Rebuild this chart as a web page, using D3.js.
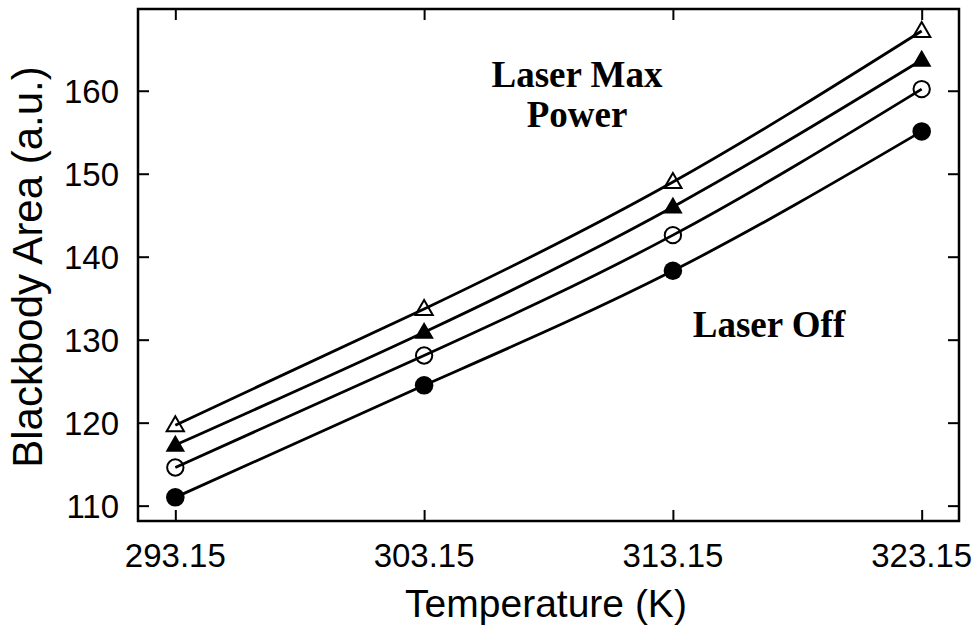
<!DOCTYPE html>
<html>
<head>
<meta charset="utf-8">
<script src="https://cdn.jsdelivr.net/npm/d3@7"></script>
<style>
  body { margin: 0; background: #fff; }
  .tick-label { font-family: 'Liberation Sans', Arial, sans-serif; font-size: 33px; fill: #000; }
  .axis-title { font-family: 'Liberation Sans', Arial, sans-serif; fill: #000; }
  .note { font-family: 'Liberation Serif', 'Times New Roman', serif; font-weight: bold; font-size: 37px; fill: #000; }
</style>
</head>
<body>
<div id="chart"></div>
<script>
// data
var temperatures = [293.15, 303.15, 313.15, 323.15];
var laserOff = [111.0, 124.5, 138.3, 155.1];
var laserLow = [114.6, 128.1, 142.6, 160.2];
var laserMid = [117.3, 130.9, 146.0, 163.7];
var laserMax = [119.7, 133.7, 149.0, 167.2];
var xTicks = [293.15, 303.15, 313.15, 323.15];
var yTicks = [110, 120, 130, 140, 150, 160];

var series = [
  { name: 'off', values: laserOff, symbol: 'circle', filled: true },
  { name: 'low', values: laserLow, symbol: 'circle', filled: false },
  { name: 'mid', values: laserMid, symbol: 'triangle', filled: true },
  { name: 'max', values: laserMax, symbol: 'triangle', filled: false }
];

var width = 978;
var height = 625;
var margin = { top: 9, right: 19, bottom: 104, left: 138 };
var graphWidth = width - margin.left - margin.right;
var graphHeight = height - margin.top - margin.bottom;

var svg = d3.select('#chart')
  .append('svg')
  .attr('width', width)
  .attr('height', height);

var graph = svg.append('g')
  .attr('transform', 'translate(' + margin.left + ',' + margin.top + ')');

var x = d3.scaleLinear().domain([291.65, 324.65]).range([0, graphWidth]);
var y = d3.scaleLinear().domain([108.15, 169.85]).range([graphHeight, 0]);

// mirrored inward ticks on all four sides
var tickLen = 11;
graph.append('g').call(d3.axisBottom(x).tickValues(xTicks).tickSize(-tickLen).tickSizeOuter(0).tickFormat(''))
  .attr('transform', 'translate(0,' + graphHeight + ')');
graph.append('g').call(d3.axisTop(x).tickValues(xTicks).tickSize(-tickLen).tickSizeOuter(0).tickFormat(''));
graph.append('g').call(d3.axisLeft(y).tickValues(yTicks).tickSize(-tickLen).tickSizeOuter(0).tickFormat(''));
graph.append('g').call(d3.axisRight(y).tickValues(yTicks).tickSize(-tickLen).tickSizeOuter(0).tickFormat(''))
  .attr('transform', 'translate(' + graphWidth + ',0)');
graph.selectAll('.domain').remove();
graph.selectAll('.tick line').attr('stroke', '#000').attr('stroke-width', 2);

// frame
graph.append('rect')
  .attr('width', graphWidth)
  .attr('height', graphHeight)
  .attr('fill', 'none')
  .attr('stroke', '#000')
  .attr('stroke-width', 2.5);

// tick labels
graph.selectAll('.x-label')
  .data(xTicks)
  .enter()
  .append('text')
  .attr('class', 'tick-label')
  .attr('x', d => x(d))
  .attr('y', graphHeight + 46)
  .attr('text-anchor', 'middle')
  .text(d => d.toFixed(2));

graph.selectAll('.y-label')
  .data(yTicks)
  .enter()
  .append('text')
  .attr('class', 'tick-label')
  .attr('x', -19)
  .attr('y', d => y(d))
  .attr('dy', '0.36em')
  .attr('text-anchor', 'end')
  .text(d => d);

// axis titles
svg.append('text')
  .attr('class', 'axis-title')
  .attr('x', 546)
  .attr('y', 617)
  .attr('text-anchor', 'middle')
  .style('font-size', '39px')
  .text('Temperature (K)');

svg.append('text')
  .attr('class', 'axis-title')
  .attr('transform', 'translate(42,267) rotate(-90)')
  .attr('text-anchor', 'middle')
  .style('font-size', '42px')
  .text('Blackbody Area (a.u.)');

// fitted curves
var line = d3.line()
  .x((d, i) => x(temperatures[i]))
  .y(d => y(d))
  .curve(d3.curveNatural);

graph.selectAll('.curve')
  .data(series)
  .enter()
  .append('path')
  .attr('d', d => line(d.values))
  .attr('fill', 'none')
  .attr('stroke', '#000')
  .attr('stroke-width', 2.8);

// markers
var circleSym = d3.symbol().type(d3.symbolCircle);
var triSym = d3.symbol().type(d3.symbolTriangle);

series.forEach(s => {
  graph.selectAll('.pt-' + s.name)
    .data(s.values)
    .enter()
    .append('path')
    .attr('transform', (d, i) => 'translate(' + x(temperatures[i]) + ',' + (y(d) + (s.symbol === 'triangle' ? 1 : 0)) + ')')
    .attr('d', s.symbol === 'circle'
      ? circleSym.size(s.filled ? 270 : 210)()
      : triSym.size(s.filled ? 165 : 130)())
    .attr('fill', s.filled ? '#000' : 'none')
    .attr('stroke', '#000')
    .attr('stroke-width', s.filled ? 0 : 2);
});

// annotations
graph.append('text')
  .attr('class', 'note')
  .attr('x', 577 - margin.left)
  .attr('y', 87 - margin.top)
  .attr('text-anchor', 'middle')
  .text('Laser Max');
graph.append('text')
  .attr('class', 'note')
  .attr('x', 577 - margin.left)
  .attr('y', 127 - margin.top)
  .attr('text-anchor', 'middle')
  .text('Power');
graph.append('text')
  .attr('class', 'note')
  .attr('x', 769 - margin.left)
  .attr('y', 337 - margin.top)
  .attr('text-anchor', 'middle')
  .text('Laser Off');
</script>
</body>
</html>
